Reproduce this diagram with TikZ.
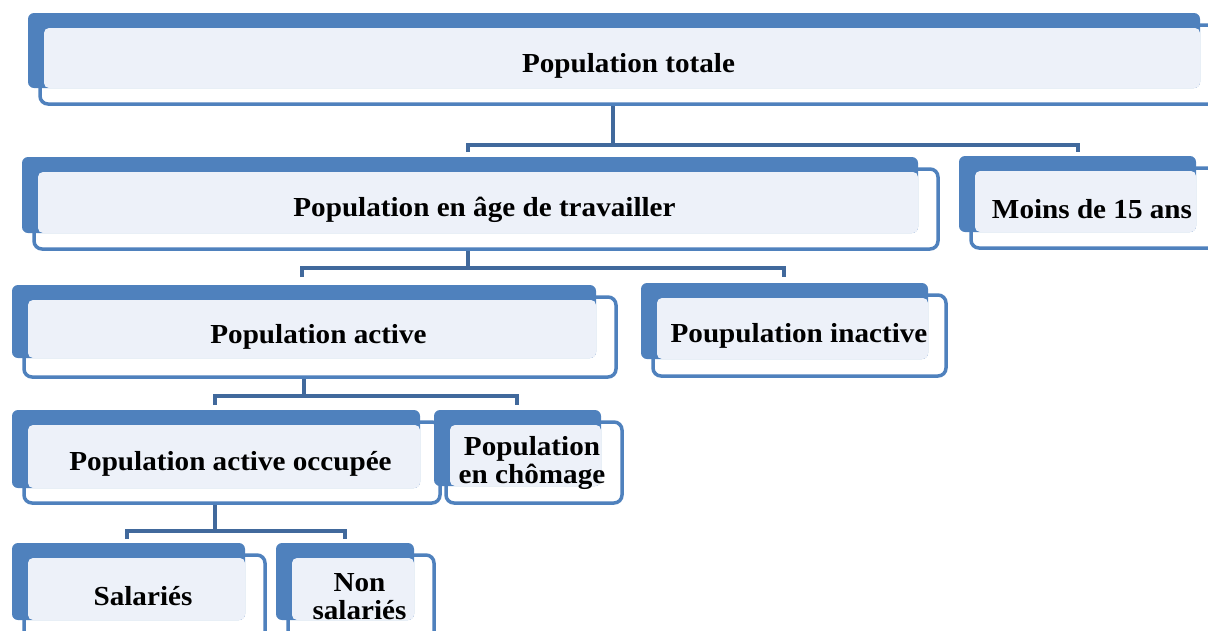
\documentclass[tikz,border=0pt]{standalone}
\usepackage{fontspec}
\setmainfont{Liberation Serif}[FakeStretch=1.06]
\definecolor{accent}{HTML}{4F81BD}
\definecolor{lightfill}{HTML}{EDF1F9}
\definecolor{connblue}{HTML}{41699C}
\tikzset{
  frontbox/.style={draw=accent, fill=white, line width=3.5pt, rounded corners=8pt},
  backbox/.style={fill=accent, rounded corners=6pt},
  lightbox/.style={fill=lightfill, rounded corners=5pt},
  lbl/.style={font=\fontsize{27.5}{28}\selectfont\bfseries, align=center, inner sep=0pt},
  conn/.style={draw=connblue, line width=4pt}
}
\newcommand\ibox[8]{%
  \draw[frontbox] ({#2+12},{#3+12}) rectangle (#6,#7);
  \fill[backbox] (#2,#3) rectangle (#4,#5);
  \fill[lightbox] ({#2+16},{#3+15}) rectangle (#4,#5);
  \node[lbl] (#1) at ({(#2+15+#4)/2+7},{(#3+14+#5)/2+8}) {#8};
}
\begin{document}
\begin{tikzpicture}[x=1pt,y=-1pt]
\useasboundingbox (0,0) rectangle (1208,630);
\clip (0,0) rectangle (1208,630);
% connectors
\coordinate (t1) at (613,90);  \coordinate (j1) at (613,145);
\coordinate (a1) at (468,152); \coordinate (b1) at (1078,152);
\coordinate (t2) at (468,248); \coordinate (j2) at (468,268);
\coordinate (a2) at (302,277); \coordinate (b2) at (784,277);
\coordinate (t3) at (304,370); \coordinate (j3) at (304,396);
\coordinate (a3) at (215,405); \coordinate (b3) at (517,405);
\coordinate (t4) at (215,497); \coordinate (j4) at (215,531);
\coordinate (a4) at (127,539); \coordinate (b4) at (345,539);
\draw[conn] (t1) -- (j1); \draw[conn] (a1) |- (j1) -| (b1);
\draw[conn] (t2) -- (j2); \draw[conn] (a2) |- (j2) -| (b2);
\draw[conn] (t3) -- (j3); \draw[conn] (a3) |- (j3) -| (b3);
\draw[conn] (t4) -- (j4); \draw[conn] (a4) |- (j4) -| (b4);
% boxes
\ibox{tot}{28}{13}{1200}{88}{1230}{104}{Population totale}
\ibox{age}{22}{157}{918}{233}{938}{249}{Population en âge de travailler}
\ibox{moins}{959}{156}{1196}{232}{1230}{248}{Moins de 15 ans}
\ibox{act}{12}{285}{596}{358}{616}{377}{Population active}
\ibox{inact}{641}{283}{928}{359}{946}{376}{Poupulation inactive}
\ibox{occ}{12}{410}{420}{488}{440}{503}{Population active occupée}
\ibox{chom}{434}{410}{601}{486}{622}{503}{Population\\en chômage}
\ibox{sal}{12}{543}{245}{620}{265}{660}{Salariés}
\ibox{nsal}{276}{543}{414}{620}{434}{660}{Non\\salariés}
\end{tikzpicture}
\end{document}
